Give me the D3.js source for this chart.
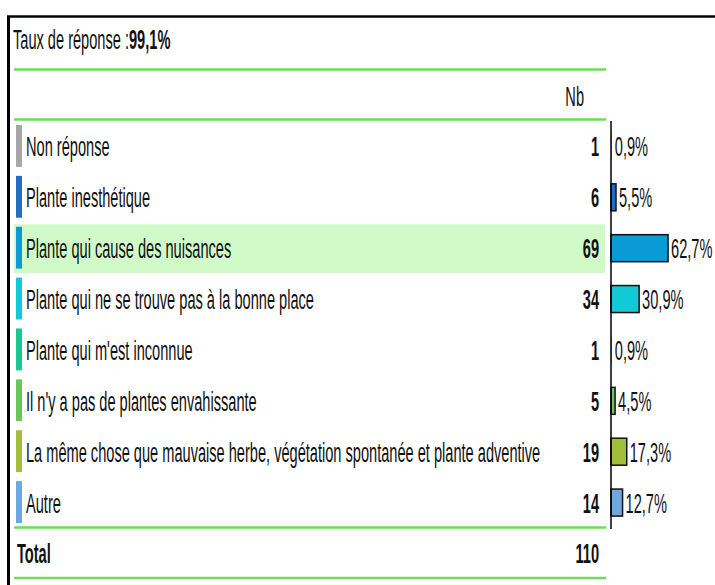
<!DOCTYPE html>
<html lang="fr">
<head>
<meta charset="utf-8">
<title>Taux de réponse</title>
<script src="https://cdn.jsdelivr.net/npm/d3@7"></script>
<style>
  body { margin: 0; background: #fff; }
  text { font-family: "Liberation Sans", Arial, sans-serif; font-size: 20px; fill: #111; }
</style>
</head>
<body>
<script>
// data
var categories = [
  "Non réponse",
  "Plante inesthétique",
  "Plante qui cause des nuisances",
  "Plante qui ne se trouve pas à la bonne place",
  "Plante qui m'est inconnue",
  "Il n'y a pas de plantes envahissante",
  "La même chose que mauvaise herbe, végétation spontanée et plante adventive",
  "Autre"
];
var counts = [1, 6, 69, 34, 1, 5, 19, 14];
var percents = [0.9, 5.5, 62.7, 30.9, 0.9, 4.5, 17.3, 12.7];
var total = 110;
var responseRate = "99,1%";
var highlighted = "Plante qui cause des nuisances";

var colors = ["#a6a6a6", "#1f6fc5", "#0a9ad6", "#11cad6", "#19c88f", "#6cc55a", "#a2bf3a", "#6fa8dc"];

var w = 715, h = 585;
var sx = 0.73, sy = 1.4;   // the original text is tall and narrow
var fmt = function(v) { return String(v).replace(".", ",") + "%"; };

var svg = d3.select("body").append("svg")
  .attr("width", w)
  .attr("height", h);

var y = d3.scaleBand().domain(categories).range([121, 528]);
var x = d3.scaleLinear().domain([0, 100]).range([611, 702]);
var color = d3.scaleOrdinal().domain(categories).range(colors);

function label(g, tx, ty) {
  return g.append("text")
    .attr("transform", "translate(" + tx + "," + ty + ") scale(" + sx + "," + sy + ")");
}

// frame
svg.append("line").attr("x1", 7).attr("x2", w).attr("y1", 16.5).attr("y2", 16.5)
  .attr("stroke", "#000").attr("stroke-width", 2.5);
svg.append("line").attr("x1", 8.5).attr("x2", 8.5).attr("y1", 16).attr("y2", h)
  .attr("stroke", "#000").attr("stroke-width", 3);

// title
var t = label(svg, 13, 49);
t.append("tspan").text("Taux de réponse :");
t.append("tspan").attr("font-weight", "bold").text(responseRate);

// green rules
[69.5, 119.5, 527.5, 578].forEach(function(yy) {
  svg.append("line").attr("x1", 14).attr("x2", 606).attr("y1", yy).attr("y2", yy)
    .attr("stroke", "#6ddc5a").attr("stroke-width", 2.5);
});

label(svg, 584, 106).attr("text-anchor", "end").text("Nb");

var rows = svg.selectAll("g.row")
  .data(categories)
  .enter().append("g")
  .attr("class", "row");

rows.filter(function(d) { return d === highlighted; })
  .append("rect")
  .attr("x", 14).attr("width", 591)
  .attr("y", function(d) { return y(d) + 1.5; })
  .attr("height", y.bandwidth() - 2)
  .attr("fill", "#d0fbc9");

rows.append("rect")
  .attr("x", 16).attr("width", 6)
  .attr("y", function(d) { return y(d) + 4; })
  .attr("height", y.bandwidth() - 9)
  .attr("fill", function(d) { return color(d); });

rows.each(function(d, i) {
  var g = d3.select(this);
  var cy = y(d) + y.bandwidth() / 2;
  label(g, 26, cy + 10).text(d);
  label(g, 599, cy + 10).attr("text-anchor", "end").attr("font-weight", "bold").text(counts[i]);
  g.append("rect")
    .attr("x", x(0))
    .attr("y", cy - 13.5)
    .attr("width", x(percents[i]) - x(0))
    .attr("height", 27)
    .attr("fill", color(d))
    .attr("stroke", "#111")
    .attr("stroke-width", percents[i] < 2 ? 0 : 1.5);
  label(g, x(percents[i]) + 3, cy + 10).text(fmt(percents[i]));
});

// axis line of the bars
svg.append("line").attr("x1", x(0)).attr("x2", x(0)).attr("y1", 121).attr("y2", 529)
  .attr("stroke", "#000").attr("stroke-width", 1.5);

// total row
label(svg, 17, 563).attr("font-weight", "bold").text("Total");
label(svg, 599, 563).attr("text-anchor", "end").attr("font-weight", "bold").text(total);
</script>
</body>
</html>
